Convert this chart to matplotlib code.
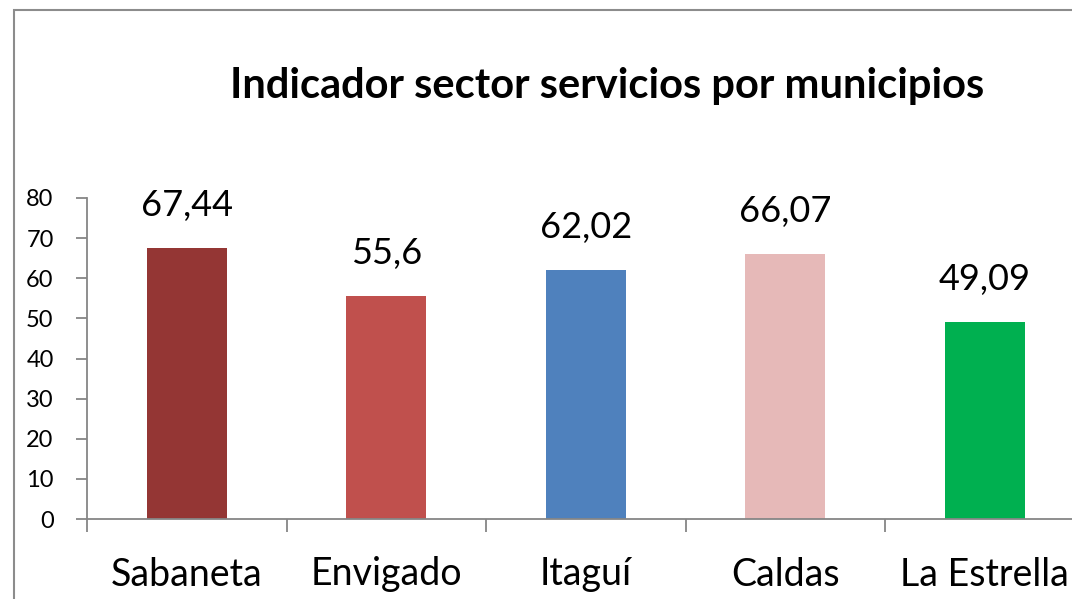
import matplotlib
matplotlib.use("Agg")
import matplotlib.pyplot as plt
from matplotlib.patches import Rectangle
import numpy as np

categories = ["Sabaneta", "Envigado", "Itaguí", "Caldas", "La Estrella"]
values = [67.44, 55.6, 62.02, 66.07, 49.09]
value_labels = ["67,44", "55,6", "62,02", "66,07", "49,09"]
colors = ["#943634", "#C0504D", "#4F81BD", "#E6B9B8", "#00B050"]
yticks = [0, 10, 20, 30, 40, 50, 60, 70, 80]
title = "Indicador sector servicios por municipios"

plt.rcParams['font.family'] = ['Lato', 'DejaVu Sans']

W, H = 1072, 599
fig = plt.figure(figsize=(W / 100, H / 100), dpi=100)
fig.patch.set_facecolor("white")

# outer chart frame (extends past right/bottom edges)
fig.patches.append(Rectangle((14 / W, -0.1), 1.2, 1 - 10 / H + 0.1,
                             transform=fig.transFigure, fill=False,
                             edgecolor="#8c8c8c", linewidth=1.5))

ax_left, ax_bottom = 87 / W, (H - 519) / H
ax_w, ax_h = 997.5 / W, 321 / H
ax = fig.add_axes([ax_left, ax_bottom, ax_w, ax_h])

x = np.arange(len(categories))
ax.bar(x, values, width=0.4, color=colors, zorder=2)

ax.set_xlim(-0.5, len(categories) - 0.5)
ax.set_ylim(0, 80)

for s in ["top", "right"]:
    ax.spines[s].set_visible(False)
for s in ["left", "bottom"]:
    ax.spines[s].set_color("#868686")
    ax.spines[s].set_linewidth(1.3)

ax.set_yticks(yticks)
ax.set_yticklabels([str(v) for v in yticks], fontsize=17)
ax.tick_params(axis="y", direction="out", length=8, width=1.3,
               color="#868686", pad=16, labelcolor="black")

ax.set_xticks(x)
ax.set_xticklabels(categories, fontsize=27)
ax.set_xticks(np.arange(-0.5, len(categories), 1.0), minor=True)
ax.tick_params(axis="x", which="major", length=0, pad=27, labelcolor="black")
ax.tick_params(axis="x", which="minor", direction="out", length=9.5,
               width=1.3, color="#868686")

for xi, v, lab in zip(x, values, value_labels):
    ax.annotate(lab, (xi, v), xytext=(0, 23), textcoords="offset points",
                ha="center", va="baseline", fontsize=26, color="black")

fig.text(607 / W, 1 - 86 / H, title, ha="center", va="center",
         fontsize=30, fontweight="bold", color="black")

fig.savefig("out.png", dpi=100)
